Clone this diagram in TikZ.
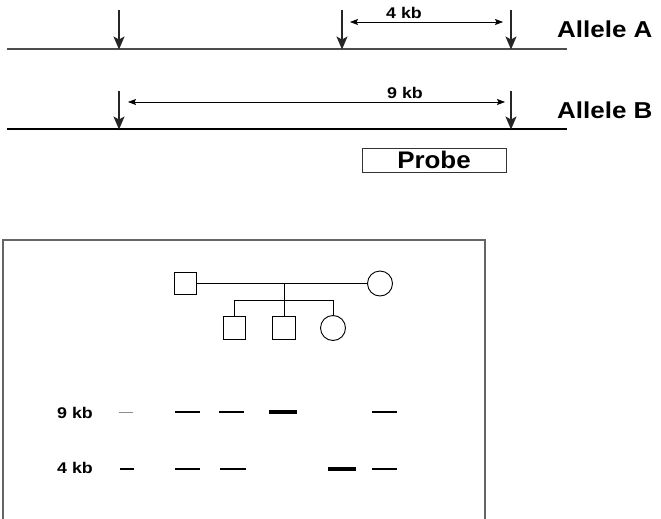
\documentclass[tikz,border=0pt]{standalone}
\usepackage{fontspec}
\setmainfont{Liberation Sans}
\usetikzlibrary{arrows.meta}
\newcommand\wtext[2]{\scalebox{#1}[1]{#2}}
\tikzset{
  site/.style={-{Stealth[length=13pt,width=11pt,inset=3pt]}, line width=1.3pt, black!85},
  dim/.style={{Stealth[length=8pt,width=6pt,inset=1.5pt]}-{Stealth[length=8pt,width=6pt,inset=1.5pt]}, line width=0.7pt},
  allele/.style={font=\fontsize{23}{23}\selectfont\bfseries, anchor=base west, inner sep=0pt},
  kb/.style={font=\fontsize{15.5}{15.5}\selectfont\bfseries, inner sep=0pt},
  male/.style={draw, line width=0.9pt, rectangle, minimum size=22.5pt, inner sep=0pt},
  female/.style={draw, line width=0.9pt, circle, minimum size=25pt, inner sep=0pt},
  ped/.style={line width=0.9pt},
  band/.style={line width=2.4pt},
  heavy/.style={line width=4.2pt},
}
\begin{document}
\begin{tikzpicture}[x=1pt,y=-1pt]
\useasboundingbox (0,0) rectangle (661,519);
% restriction map
\coordinate (a0) at (7,49); \coordinate (a1) at (567,49);
\coordinate (b0) at (7,129); \coordinate (b1) at (567,129);
\draw[line width=1.1pt, black!70] (a0) -- (a1);
\draw[line width=1.6pt] (b0) -- (b1);
\coordinate (sa1t) at (119,10); \coordinate (sa1) at (119,49.5);
\coordinate (sa2t) at (342,10); \coordinate (sa2) at (342,49.5);
\coordinate (sa3t) at (511,10); \coordinate (sa3) at (511,49.5);
\coordinate (sb1t) at (119,91); \coordinate (sb1) at (119,129.5);
\coordinate (sb2t) at (511,91); \coordinate (sb2) at (511,129.5);
\draw[site] (sa1t) -- (sa1);
\draw[site] (sa2t) -- (sa2);
\draw[site] (sa3t) -- (sa3);
\draw[site] (sb1t) -- (sb1);
\draw[site] (sb2t) -- (sb2);
\coordinate (d4l) at (350,22); \coordinate (d4r) at (503,22);
\coordinate (d9l) at (128,102); \coordinate (d9r) at (505,102);
\draw[dim] (d4l) -- (d4r);
\draw[dim] (d9l) -- (d9r);
\node[kb, anchor=base] (l4) at (404,19) {\wtext{1.15}{4 kb}};
\node[kb, anchor=base] (l9) at (405,98) {\wtext{1.15}{9 kb}};
\node[allele] (alA) at (557,38) {\wtext{1.13}{Allele A}};
\node[allele] (alB) at (557,118) {\wtext{1.13}{Allele B}};
\node[draw, line width=0.9pt, draw=black!80, minimum width=144pt, minimum height=24pt, inner sep=0pt,
      font=\fontsize{24}{24}\selectfont\bfseries] (probe) at (434,160) {\raisebox{-1pt}{\wtext{1.08}{Probe}}};
% blot panel
\draw[line width=1.1pt, black!60] (3,520) -- (3,240) -- (485,240) -- (485,520);
% pedigree
\node[male] (father) at (185.5,283.5) {};
\node[female] (mother) at (380,283.5) {};
\node[male] (son1) at (234.5,328) {};
\node[male] (son2) at (284,328) {};
\node[female] (dau) at (333,328) {};
\coordinate (mid) at (284,283.5);
\coordinate (sib) at (284,300);
\coordinate (sibL) at (234.5,300);
\coordinate (sibR) at (333,300);
\draw[ped] (father.east) -- (mother.west);
\draw[ped] (mid) -- (sib);
\draw[ped] (sibL) -- (sibR);
\draw[ped] (sibL) -- (son1.north);
\draw[ped] (sib) -- (son2.north);
\draw[ped] (sibR) -- (dau.north);
% band labels
\node[kb, anchor=base] (k9) at (75,418) {\wtext{1.15}{9 kb}};
\node[kb, anchor=base] (k4) at (75,473) {\wtext{1.15}{4 kb}};
% bands 9 kb
\draw[line width=1pt, black!45] (119,412) -- (133,412);
\draw[band] (175,412) -- (200,412);
\draw[band] (219,412) -- (244,412);
\draw[heavy] (269,412) -- (297,412);
\draw[band] (372,412) -- (397,412);
% bands 4 kb
\draw[line width=1.4pt] (120,469) -- (134,469);
\draw[band] (175,469) -- (200,469);
\draw[band] (220,469) -- (246,469);
\draw[heavy] (328,469) -- (356,469);
\draw[band] (372,469) -- (397,469);
\end{tikzpicture}
\end{document}
